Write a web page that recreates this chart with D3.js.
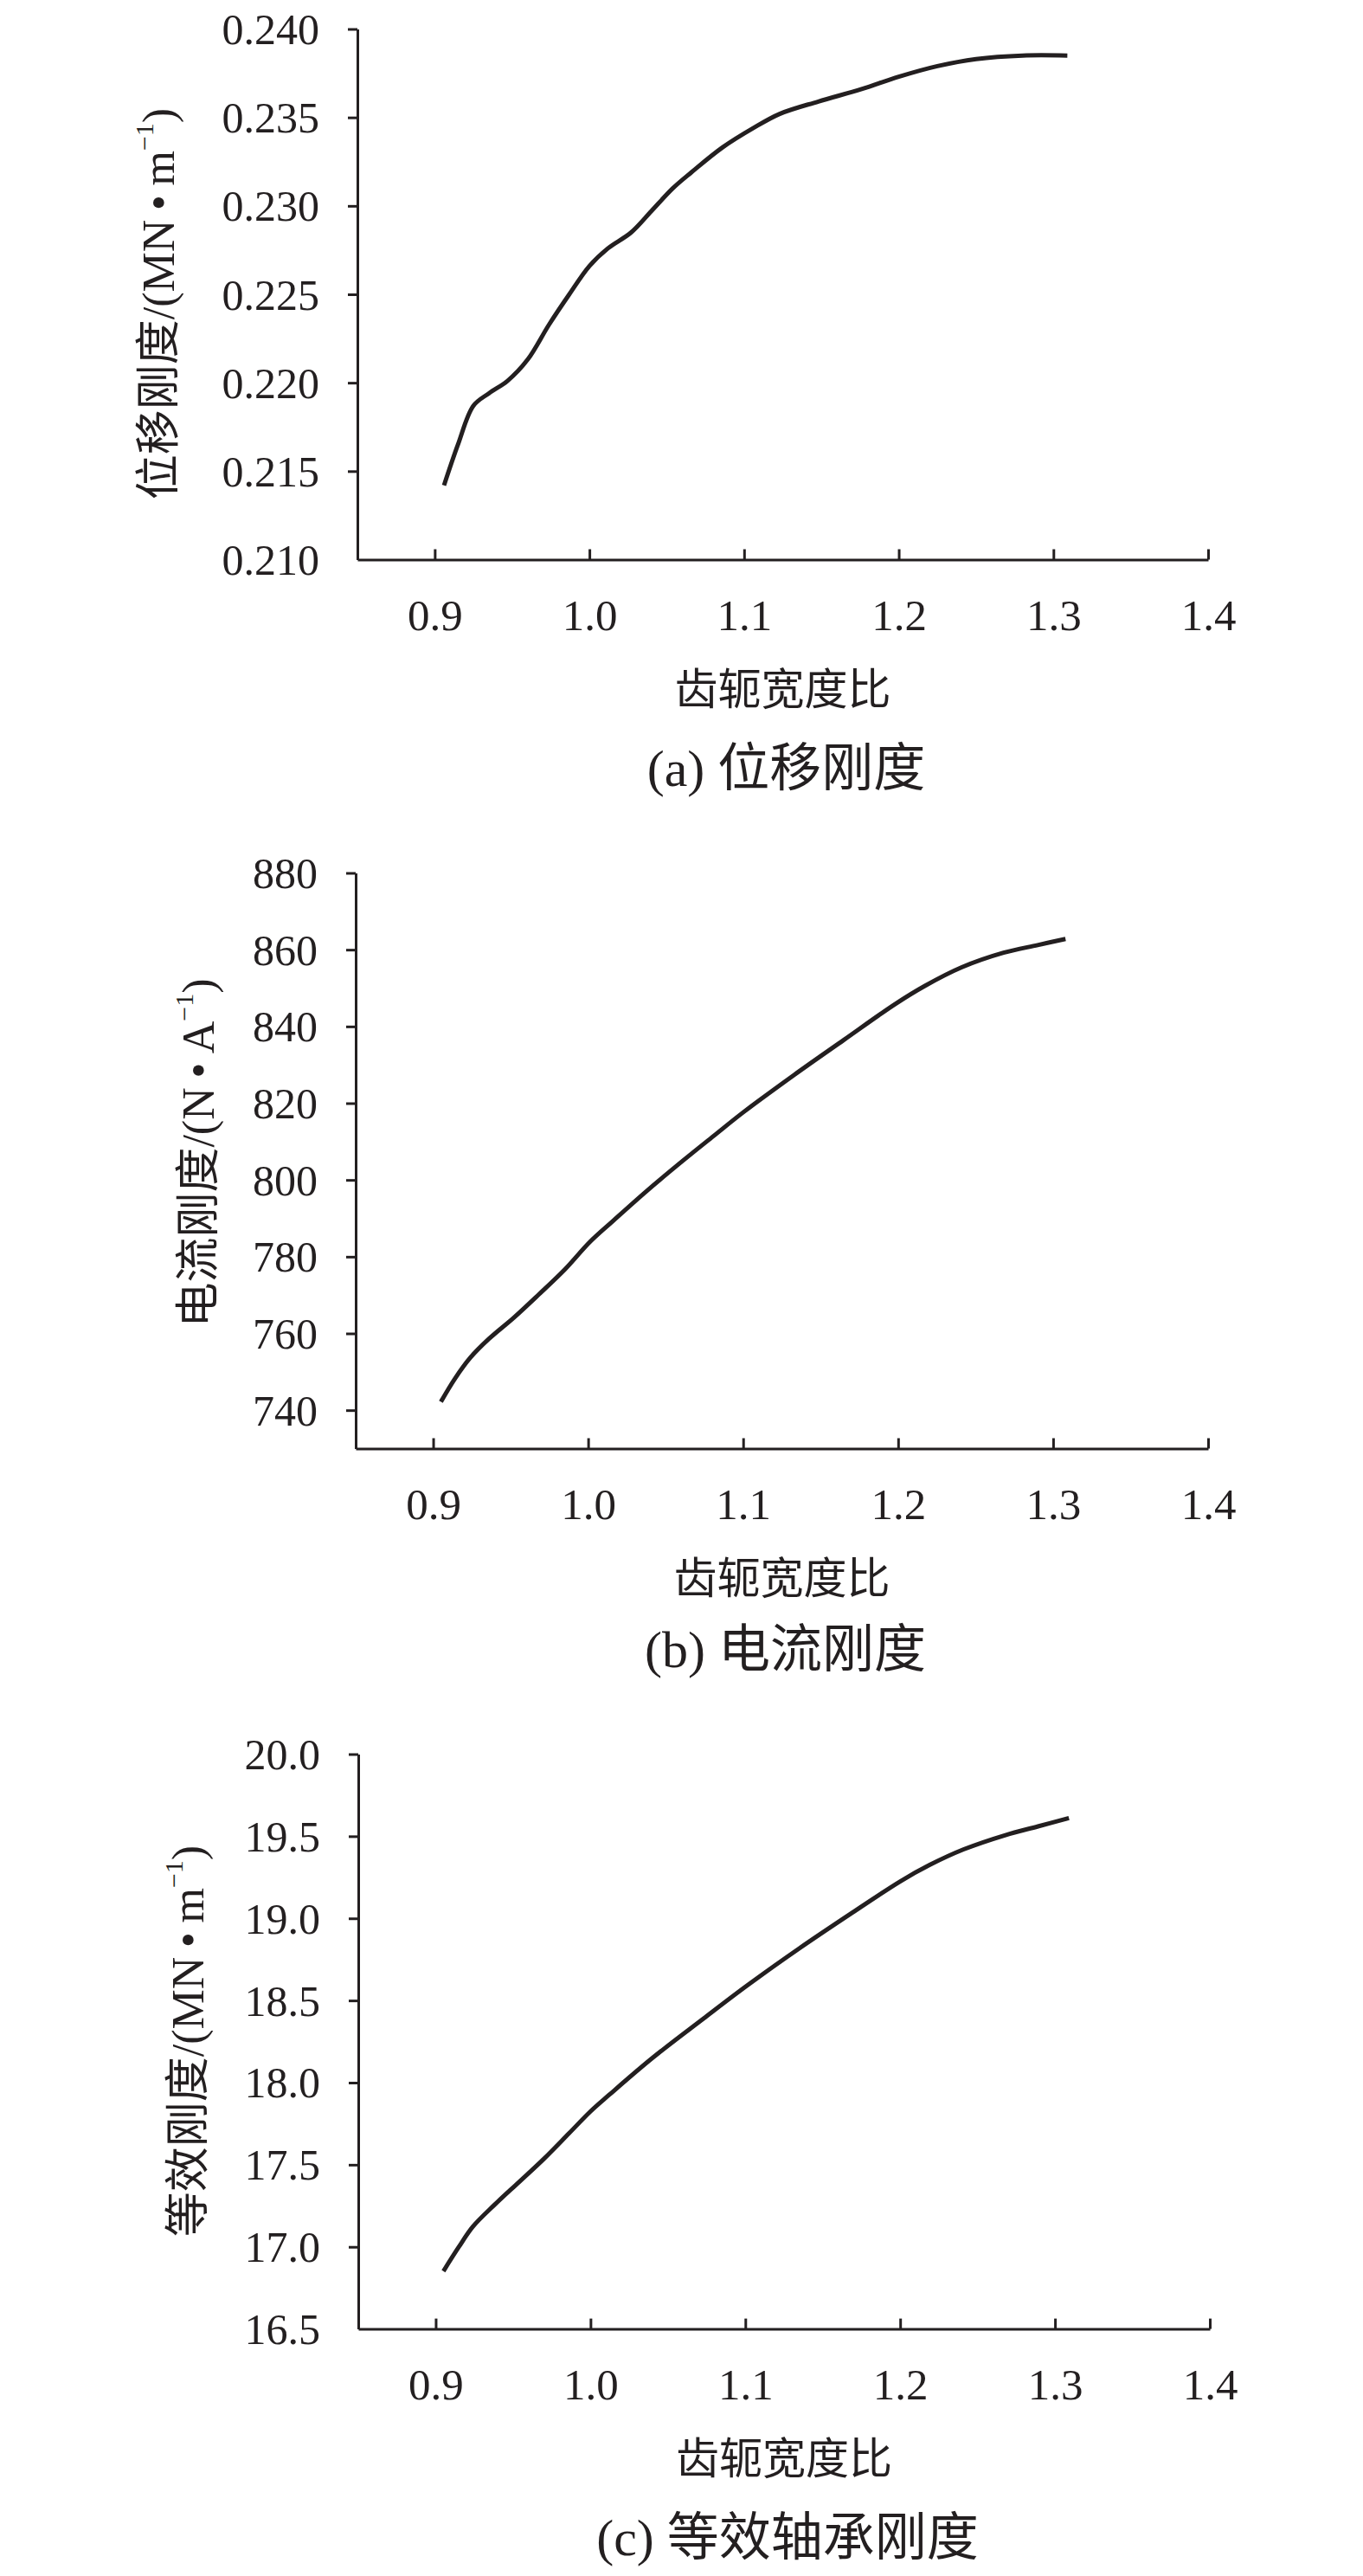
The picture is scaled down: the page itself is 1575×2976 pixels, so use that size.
<!DOCTYPE html>
<html>
<head>
<meta charset="utf-8">
<script src="https://cdn.jsdelivr.net/npm/d3@7"></script>
<style>
  body { margin: 0; background: #fff; }
  svg { display: block; }
</style>
</head>
<body>
<div id="chart"></div>
<script>
// x axis: tooth-yoke width ratio (shared tick labels)
const xTicks = [0.9, 1.0, 1.1, 1.2, 1.3, 1.4]

// (a) displacement stiffness
const ratioA = [0.906, 0.915, 0.925, 0.935, 0.947, 0.960, 0.974, 0.987, 1.000, 1.012, 1.027, 1.040,
  1.054, 1.066, 1.086, 1.106, 1.123, 1.148, 1.176, 1.200, 1.225, 1.250, 1.280, 1.309]
const stiffA = [0.2142, 0.2165, 0.2187, 0.2194, 0.2201, 0.2213, 0.2233, 0.2250, 0.2266, 0.2276, 0.2285, 0.2297,
  0.2310, 0.2319, 0.2333, 0.2344, 0.2352, 0.2359, 0.2366, 0.2373, 0.2379, 0.2383, 0.2385, 0.2385]
const yTicksA = [0.210, 0.215, 0.220, 0.225, 0.230, 0.235, 0.240]

// (b) current stiffness
const ratioB = [0.905, 0.914, 0.924, 0.936, 0.952, 0.968, 0.985, 1.001, 1.016, 1.038, 1.062, 1.082,
  1.100, 1.133, 1.165, 1.198, 1.217, 1.241, 1.268, 1.290, 1.308]
const currB = [742.2, 748.2, 753.7, 758.6, 764.1, 770.1, 776.7, 783.8, 789.3, 797.2, 805.3, 811.8,
  817.6, 827.4, 836.5, 845.8, 850.5, 855.4, 859.2, 861.2, 862.8]
const yTicksB = [740, 760, 780, 800, 820, 840, 860, 880]

// (c) equivalent bearing stiffness
const ratioC = [0.905, 0.915, 0.924, 0.938, 0.954, 0.970, 0.986, 1.000, 1.012, 1.040, 1.073, 1.101,
  1.135, 1.170, 1.200, 1.219, 1.241, 1.268, 1.289, 1.309]
const eqC = [16.852, 17.000, 17.123, 17.256, 17.396, 17.537, 17.690, 17.825, 17.925, 18.150, 18.390, 18.590,
  18.818, 19.040, 19.225, 19.325, 19.420, 19.507, 19.560, 19.611]
const yTicksC = [16.5, 17.0, 17.5, 18.0, 18.5, 19.0, 19.5, 20.0]

const xTitle = "齿轭宽度比"

const W = 1575, H = 2976
const ink = "#231f20"
const latin = "'Liberation Serif', 'Times New Roman', 'Noto Sans CJK SC', serif"
const mixed = "'Liberation Serif', 'Noto Sans CJK SC', serif"

const svg = d3.select("#chart").append("svg")
  .attr("width", W)
  .attr("height", H)
  .attr("viewBox", `0 0 ${W} ${H}`)

svg.append("rect").attr("width", W).attr("height", H).attr("fill", "#fff")

function drawPanel(p) {
  const x = d3.scaleLinear().domain([0.85, 1.4]).range([p.left, p.right])
  const y = d3.scaleLinear().domain([p.yTicks[0] - p.yPad, p.yTicks[p.yTicks.length - 1]]).range([p.bottom, p.top])
  const g = svg.append("g")

  // y axis, ticks pointing out
  const ya = g.append("g")
    .attr("transform", `translate(${p.left},0)`)
    .call(d3.axisLeft(y).tickValues(p.yTicks).tickFormat(d3.format(p.fmt))
      .tickSizeInner(11).tickSizeOuter(0).tickPadding(33))
  ya.select(".domain").attr("stroke", ink).attr("stroke-width", 3)
  ya.selectAll(".tick line").attr("stroke", ink).attr("stroke-width", 3)
  // no outward tick where the two axes meet
  ya.selectAll(".tick").filter(d => y(d) >= p.bottom - 1).select("line").remove()
  ya.selectAll(".tick text")
    .attr("fill", ink).style("font-family", latin).style("font-size", "50px")
    .attr("dy", "0.34em")

  // x axis, ticks pointing in
  const xa = g.append("g")
    .attr("transform", `translate(0,${p.bottom})`)
    .call(d3.axisBottom(x).tickValues(xTicks).tickFormat(d3.format(".1f"))
      .tickSizeInner(-12).tickSizeOuter(0).tickPadding(45))
  xa.select(".domain").attr("stroke", ink).attr("stroke-width", 3)
  xa.selectAll(".tick line").attr("stroke", ink).attr("stroke-width", 3)
  xa.selectAll(".tick text")
    .attr("fill", ink).style("font-family", latin).style("font-size", "51px")

  // curve
  const line = d3.line()
    .x(d => x(d[0]))
    .y(d => y(d[1]))
    .curve(d3.curveCatmullRom.alpha(0.5))
  g.append("path")
    .datum(d3.zip(p.xs, p.ys))
    .attr("fill", "none")
    .attr("stroke", ink)
    .attr("stroke-width", 5)
    .attr("stroke-linejoin", "round")
    .attr("d", line)

  // y title (rotated)
  const yt = g.append("text")
    .attr("transform", `translate(${p.yTitleX},${p.yTitleY}) rotate(-90)`)
    .attr("text-anchor", "middle")
    .attr("dominant-baseline", "central")
    .attr("fill", ink)
    .style("font-family", mixed)
    .style("font-size", "52px")
  yt.append("tspan").text(p.yTitle)
  yt.append("tspan").attr("baseline-shift", "super").style("font-size", "30px").text("\u22121")
  yt.append("tspan").text(")")

  // x title
  g.append("text")
    .attr("x", (p.left + p.right) / 2)
    .attr("y", p.bottom + 145)
    .attr("text-anchor", "middle")
    .attr("dominant-baseline", "central")
    .attr("fill", ink)
    .style("font-family", "'Noto Sans CJK SC', sans-serif")
    .style("font-size", "50px")
    .text(xTitle)

  // caption
  g.append("text")
    .attr("x", (p.left + p.right) / 2 + 4)
    .attr("y", p.bottom + p.capGap)
    .attr("text-anchor", "middle")
    .attr("dominant-baseline", "central")
    .attr("fill", ink)
    .style("font-family", mixed)
    .style("font-size", "60px")
    .text(p.caption)
}

drawPanel({
  xs: ratioA, ys: stiffA, yTicks: yTicksA, yPad: 0, fmt: ".3f",
  left: 413, right: 1396, top: 33.5, bottom: 646.5,
  yTitle: "位移刚度/(MN\u2009•\u2009m", yTitleX: 183, yTitleY: 351,
  caption: "(a) 位移刚度", capGap: 241
})

drawPanel({
  xs: ratioB, ys: currB, yTicks: yTicksB, yPad: 10, fmt: "d",
  left: 411, right: 1396, top: 1008.5, bottom: 1673.5,
  yTitle: "电流刚度/(N\u2009•\u2009A", yTitleX: 229, yTitleY: 1332,
  caption: "(b) 电流刚度", capGap: 232
})

drawPanel({
  xs: ratioC, ys: eqC, yTicks: yTicksC, yPad: 0, fmt: ".1f",
  left: 414, right: 1398, top: 2026.5, bottom: 2690.6,
  yTitle: "等效刚度/(MN\u2009•\u2009m", yTitleX: 217, yTitleY: 2358,
  caption: "(c) 等效轴承刚度", capGap: 241
})
</script>
</body>
</html>
